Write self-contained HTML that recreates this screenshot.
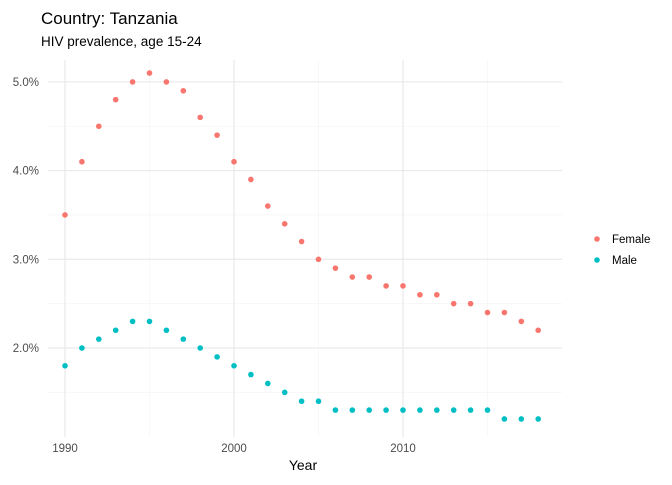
<!DOCTYPE html>
<html><head><meta charset="utf-8"><style>
body{margin:0;background:#fff;font-family:"Liberation Sans",sans-serif;}
svg text{font-family:"Liberation Sans",sans-serif;}
</style></head><body>
<svg id="c" width="672" height="480" xmlns="http://www.w3.org/2000/svg">
<text x="41" y="24" font-size="17" fill="#000">Country: Tanzania</text>
<text x="41" y="46" font-size="13.5" fill="#000">HIV prevalence, age 15-24</text>
<g id="grid"></g><g id="axes"></g><g id="pts"></g>
<text x="303" y="470" font-size="14" text-anchor="middle" fill="#000">Year</text>
<g>
<circle cx="597" cy="239" r="2.8" fill="#F8766D"/>
<text x="612" y="243" font-size="11.5">Female</text>
<circle cx="597" cy="260" r="2.8" fill="#00BFC4"/>
<text x="612" y="264" font-size="11.5">Male</text>
</g>
</svg>
<script>
const years=[1990,1991,1992,1993,1994,1995,1996,1997,1998,1999,2000,2001,2002,2003,2004,2005,2006,2007,2008,2009,2010,2011,2012,2013,2014,2015,2016,2017,2018];
const female=[3.5,4.1,4.5,4.8,5.0,5.1,5.0,4.9,4.6,4.4,4.1,3.9,3.6,3.4,3.2,3.0,2.9,2.8,2.8,2.7,2.7,2.6,2.6,2.5,2.5,2.4,2.4,2.3,2.2];
const male=[1.8,2.0,2.1,2.2,2.3,2.3,2.2,2.1,2.0,1.9,1.8,1.7,1.6,1.5,1.4,1.4,1.3,1.3,1.3,1.3,1.3,1.3,1.3,1.3,1.3,1.3,1.2,1.2,1.2];
const xTicks=[1990,2000,2010];
const xMinor=[1995,2005,2015];
const yTicks=[2,3,4,5];
const yMinor=[1.5,2.5,3.5,4.5];
const X=v=>65+(v-1990)*16.9;
const Y=v=>348-(v-2)*88.7;
const NS="http://www.w3.org/2000/svg";
function mk(p,t,a){const e=document.createElementNS(NS,t);for(const k in a)e.setAttribute(k,a[k]);p.appendChild(e);return e;}
const g=document.getElementById('grid'),ax=document.getElementById('axes'),pts=document.getElementById('pts');
const L=48,R=562,T=60,B=437;
yMinor.forEach(v=>{const e=mk(g,'line',{x1:L,x2:R,y1:Y(v),y2:Y(v),stroke:'#f3f3f3','stroke-width':0.6});

});
xMinor.forEach(v=>{const e=mk(g,'line',{x1:X(v),x2:X(v),y1:T,y2:B,stroke:'#f3f3f3','stroke-width':0.6});

});
yTicks.forEach(v=>{const e=mk(g,'line',{x1:L,x2:R,y1:Y(v),y2:Y(v),stroke:'#e6e6e6','stroke-width':1});


const t=mk(ax,'text',{x:39,y:Y(v)+4,'font-size':11.5,'text-anchor':'end',fill:'#4d4d4d'});t.textContent=v.toFixed(1)+'%';

});
xTicks.forEach(v=>{const e=mk(g,'line',{x1:X(v),x2:X(v),y1:T,y2:B,stroke:'#e6e6e6','stroke-width':1});


const t=mk(ax,'text',{x:X(v),y:452,'font-size':11.5,'text-anchor':'middle',fill:'#4d4d4d'});t.textContent=v;

});
years.forEach((yr,i)=>{
const f=mk(pts,'circle',{cx:X(yr),cy:Y(female[i]),r:2.8,fill:'#F8766D'});


const m=mk(pts,'circle',{cx:X(yr),cy:Y(male[i]),r:2.8,fill:'#00BFC4'});


});
</script>
</body></html>
